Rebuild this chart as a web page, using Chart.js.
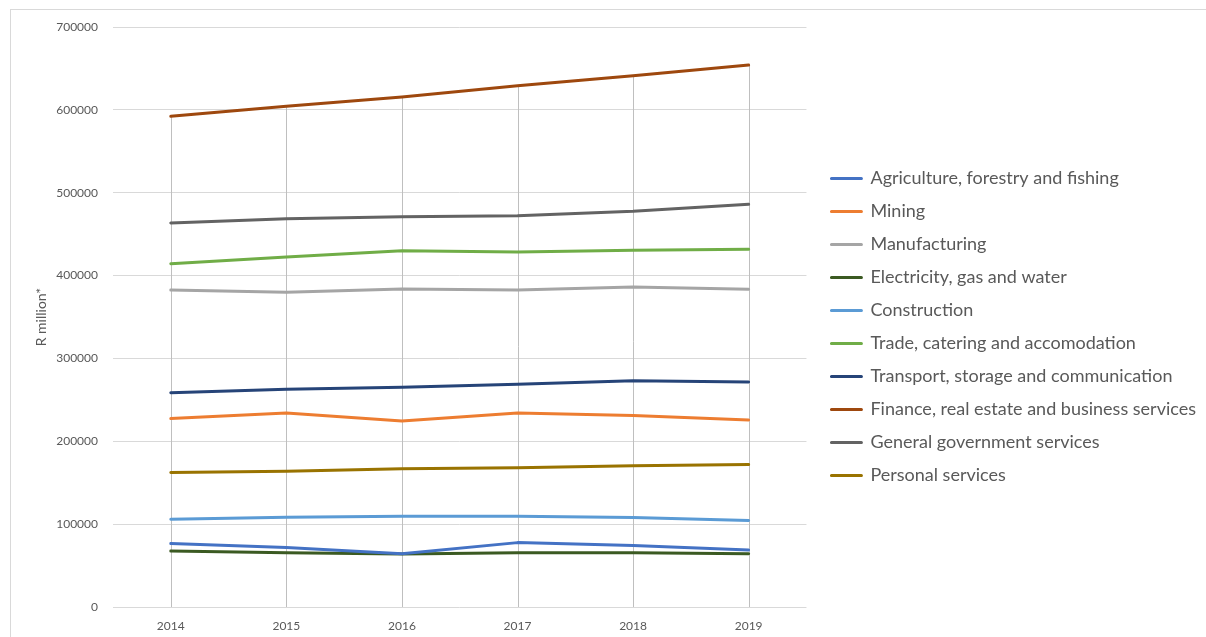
<!DOCTYPE html>
<html>
<head>
<meta charset="utf-8">
<script src="https://cdn.jsdelivr.net/npm/chart.js@4"></script>
<style>
  html, body { margin: 0; padding: 0; background: #fff; overflow: hidden; }
  #wrap { position: relative; width: 1206px; height: 637px; }
  #frame { position: absolute; left: 10px; top: 9px; width: 1300px; height: 700px; border: 1px solid #d9d9d9; }
  #gdpChart { position: absolute; left: 0; top: 0; }
</style>
</head>
<body>
<div id="wrap">
  <div id="frame"></div>
  <canvas id="gdpChart" width="1206" height="637"></canvas>
</div>
<script>
const years = ['2014', '2015', '2016', '2017', '2018', '2019'];

const agriculture = [76500, 71700, 64400, 77700, 74100, 68800];
const mining = [227400, 234100, 224500, 234100, 231000, 225700];
const manufacturing = [382600, 379800, 383800, 382600, 386200, 383400];
const electricity = [67600, 65600, 64000, 65600, 65600, 64400];
const construction = [105800, 108300, 109500, 109500, 107900, 104300];
const trade = [414400, 422400, 430100, 428400, 430500, 431700];
const transport = [258700, 262700, 265100, 268800, 273200, 271600];
const finance = [592200, 604300, 615500, 629200, 641300, 654100];
const government = [463400, 468700, 471100, 472300, 477500, 486000];
const personal = [162200, 163800, 167000, 168200, 170600, 171900];

const yTicks = [0, 100000, 200000, 300000, 400000, 500000, 600000, 700000];

const series = [
    ['Agriculture, forestry and fishing', agriculture, '#4472c4'],
    ['Mining', mining, '#ed7d31'],
    ['Manufacturing', manufacturing, '#a5a5a5'],
    ['Electricity, gas and water', electricity, '#3b5a22'],
    ['Construction', construction, '#5b9bd5'],
    ['Trade, catering and accomodation', trade, '#70ad47'],
    ['Transport, storage and communication', transport, '#264478'],
    ['Finance, real estate and business services', finance, '#9e480e'],
    ['General government services', government, '#636363'],
    ['Personal services', personal, '#997300'],
];

// vertical drop lines from the highest series down to the axis
const dropLines = {
    id: 'dropLines',
    beforeDatasetsDraw(chart) {
        const { ctx, scales: { x, y } } = chart;
        ctx.save();
        ctx.strokeStyle = '#bfbfbf';
        ctx.lineWidth = 1;
        years.forEach((yr, i) => {
            const top = Math.max(...chart.data.datasets.map(d => d.data[i]));
            const px = Math.round(x.getPixelForValue(i)) + 0.5;
            ctx.beginPath();
            ctx.moveTo(px, y.getPixelForValue(top));
            ctx.lineTo(px, y.getPixelForValue(0));
            ctx.stroke();
        });
        ctx.restore();
    }
};

// nudge the legend block right and up, leaving the plot area where it is
const legendNudge = {
    id: 'legendNudge',
    afterLayout(chart) {
        const lg = chart.legend;
        lg.left += 10;
        lg.right += 10;
        lg.top -= 5;
        lg.bottom -= 5;
    }
};

function drawChart() {
    const ctx = document.getElementById('gdpChart').getContext('2d');
    return new Chart(ctx, {
        type: 'line',
        data: {
            labels: years,
            datasets: series.map(([label, data, color]) => ({
                label: label,
                data: data,
                borderColor: color,
                backgroundColor: color,
                borderWidth: 3,
                borderCapStyle: 'round',
                borderJoinStyle: 'round',
                pointRadius: 0,
                tension: 0,
            }))
        },
        options: {
            responsive: false,
            animation: false,
            layout: {
                padding: { top: 27, bottom: 0, left: 33, right: 10 },
            },
            scales: {
                x: {
                    offset: true,
                    grid: { display: false, drawTicks: false },
                    border: { display: false },
                    ticks: {
                        padding: 12,
                        color: '#595959',
                        font: { family: 'Lato', size: 12 },
                    },
                    afterFit(scale) { scale.height = 30; },
                },
                y: {
                    min: 0,
                    max: 700000,
                    afterBuildTicks(scale) { scale.ticks = yTicks.map(v => ({ value: v })); },
                    grid: { color: '#d9d9d9', drawTicks: false },
                    border: { display: false },
                    ticks: {
                        padding: 15,
                        color: '#595959',
                        font: { family: 'Lato', size: 12 },
                        callback: v => String(v),
                    },
                    title: {
                        display: true,
                        text: 'R million*',
                        color: '#595959',
                        font: { family: 'Lato', size: 14 },
                        padding: 0,
                    },
                    afterFit(scale) { scale.width = 80; },
                }
            },
            plugins: {
                legend: {
                    position: 'right',
                    maxWidth: 420,
                    labels: {
                        boxWidth: 30,
                        boxHeight: 0,
                        padding: 15,
                        color: '#595959',
                        font: { family: 'Lato', size: 18 },
                    },
                },
                tooltip: { enabled: false },
            },
        },
        plugins: [dropLines, legendNudge],
    });
}

Promise.all([
    document.fonts.load('18px Lato'),
    document.fonts.load('12px Lato'),
]).then(drawChart, drawChart);
</script>
</body>
</html>
